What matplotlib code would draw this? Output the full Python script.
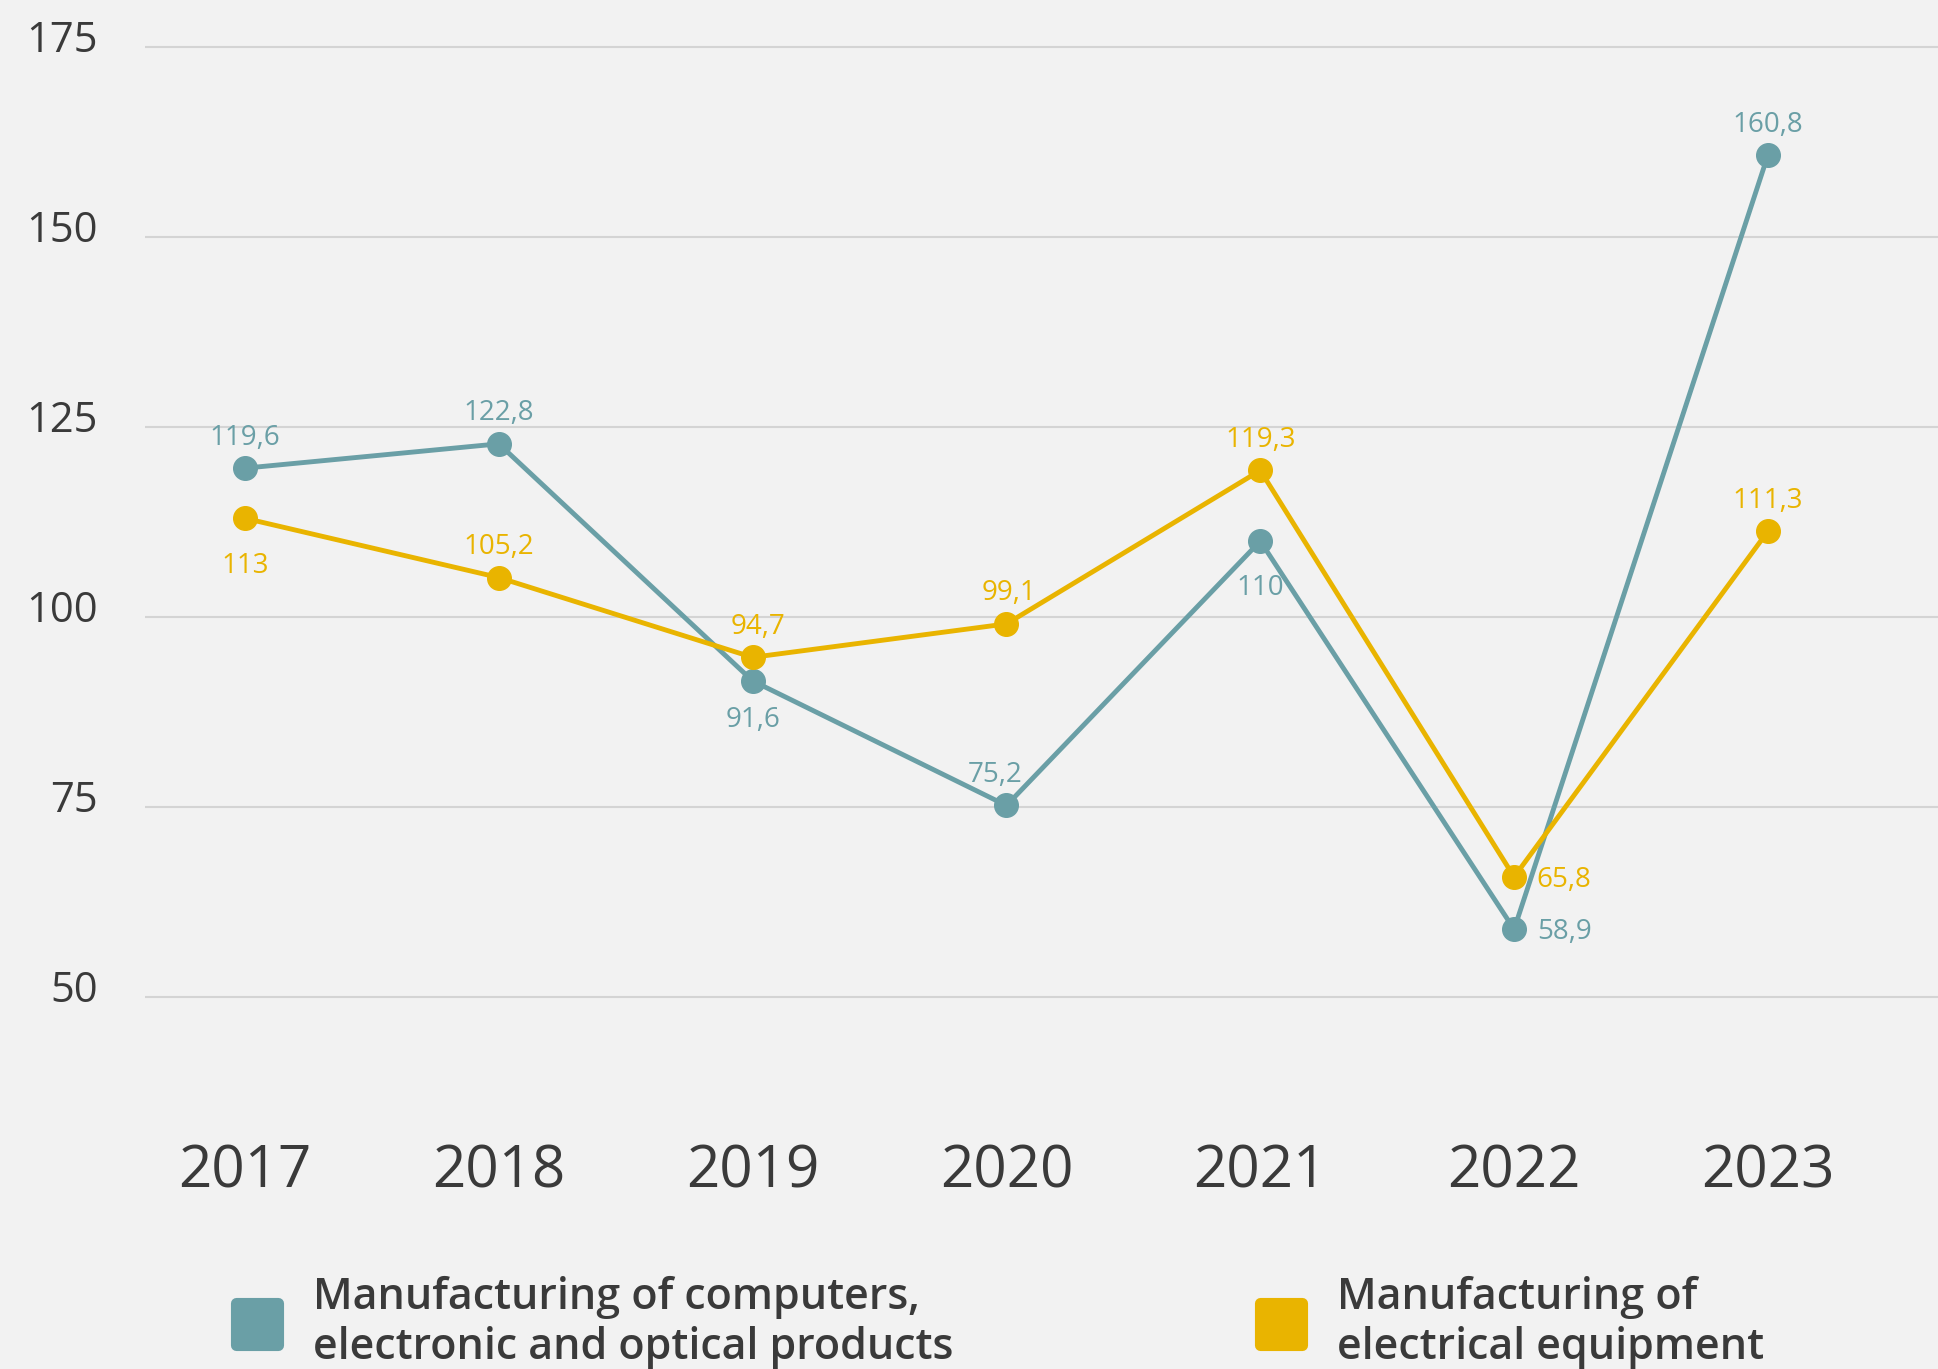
import matplotlib
matplotlib.use("Agg")
import matplotlib.pyplot as plt
import matplotlib.transforms as mtransforms
from matplotlib.lines import Line2D
from matplotlib.markers import MarkerStyle

plt.rcParams['font.family'] = ['Open Sans', 'DejaVu Sans']

# Data
years = ['2017', '2018', '2019', '2020', '2021', '2022', '2023']
computers = [119.6, 122.8, 91.6, 75.2, 110, 58.9, 160.8]
electrical = [113, 105.2, 94.7, 99.1, 119.3, 65.8, 111.3]
computers_labels = ['119,6', '122,8', '91,6', '75,2', '110', '58,9', '160,8']
electrical_labels = ['113', '105,2', '94,7', '99,1', '119,3', '65,8', '111,3']
series_names = ['Manufacturing of computers,\nelectronic and optical products',
                'Manufacturing of\nelectrical equipment']
yticks = [50, 75, 100, 125, 150, 175]

TEAL = '#6a9fa6'
YELLOW = '#e9b400'
BG = '#f2f2f2'
TEXT = '#3a3a3a'

# label offsets (points) for each value label
computers_offsets = [(0, 22), (0, 22), (0, -28), (-8, 22), (0, -34), (36, -2), (0, 22)]
electrical_offsets = [(0, -34), (0, 22), (4, 22), (2, 22), (0, 22), (36, -2), (0, 22)]

fig = plt.figure(figsize=(19.38, 13.69), dpi=100, facecolor=BG)
ax = fig.add_axes([0.0748, 0.2257, 0.9252, 0.767])
ax.set_facecolor(BG)

x = list(range(len(years)))

ax.plot(x, computers, color=TEAL, lw=3.5, marker='o', ms=17, zorder=3)
ax.plot(x, electrical, color=YELLOW, lw=3.5, marker='o', ms=17, zorder=3)

for xi, v, lab, off in zip(x, computers, computers_labels, computers_offsets):
    ax.annotate(lab, (xi, v), xytext=off, textcoords='offset points',
                ha='center', va='center', fontsize=20, color=TEAL, zorder=4)
for xi, v, lab, off in zip(x, electrical, electrical_labels, electrical_offsets):
    ax.annotate(lab, (xi, v), xytext=off, textcoords='offset points',
                ha='center', va='center', fontsize=20, color=YELLOW, zorder=4)

ax.set_ylim(41.7, 179.9)
ax.set_xlim(-0.394, 6.67)
ax.set_yticks(yticks)
ax.set_yticklabels([str(t) for t in yticks], fontsize=30, color=TEXT)
ax.set_xticks(x)
ax.set_xticklabels(years, fontsize=42, color=TEXT)
ax.tick_params(axis='y', length=0, pad=34)
ax.tick_params(axis='x', length=0, pad=60)
ax.grid(axis='y', color='#d4d4d4', lw=1.5)
ax.set_axisbelow(True)
for s in ax.spines.values():
    s.set_visible(False)

# nudge y labels slightly above their gridlines
shift = mtransforms.ScaledTranslation(0, 8 / 72, fig.dpi_scale_trans)
for lbl in ax.get_yticklabels():
    lbl.set_transform(lbl.get_transform() + shift)

rounded_sq = MarkerStyle('s', joinstyle='round')
handles = [Line2D([], [], ls='none', marker=rounded_sq, ms=30, mew=8, color=TEAL),
           Line2D([], [], ls='none', marker=rounded_sq, ms=30, mew=8, color=YELLOW)]
fig.legend(handles, series_names, ncol=2, loc='lower left',
           bbox_to_anchor=(0.095, -0.022), frameon=False,
           prop={'size': 31, 'weight': 'semibold'},
           labelcolor=TEXT, handletextpad=0.3, columnspacing=6.6,
           labelspacing=0.2, borderaxespad=0.3)

fig.savefig('out.png', dpi=100, facecolor=BG)
